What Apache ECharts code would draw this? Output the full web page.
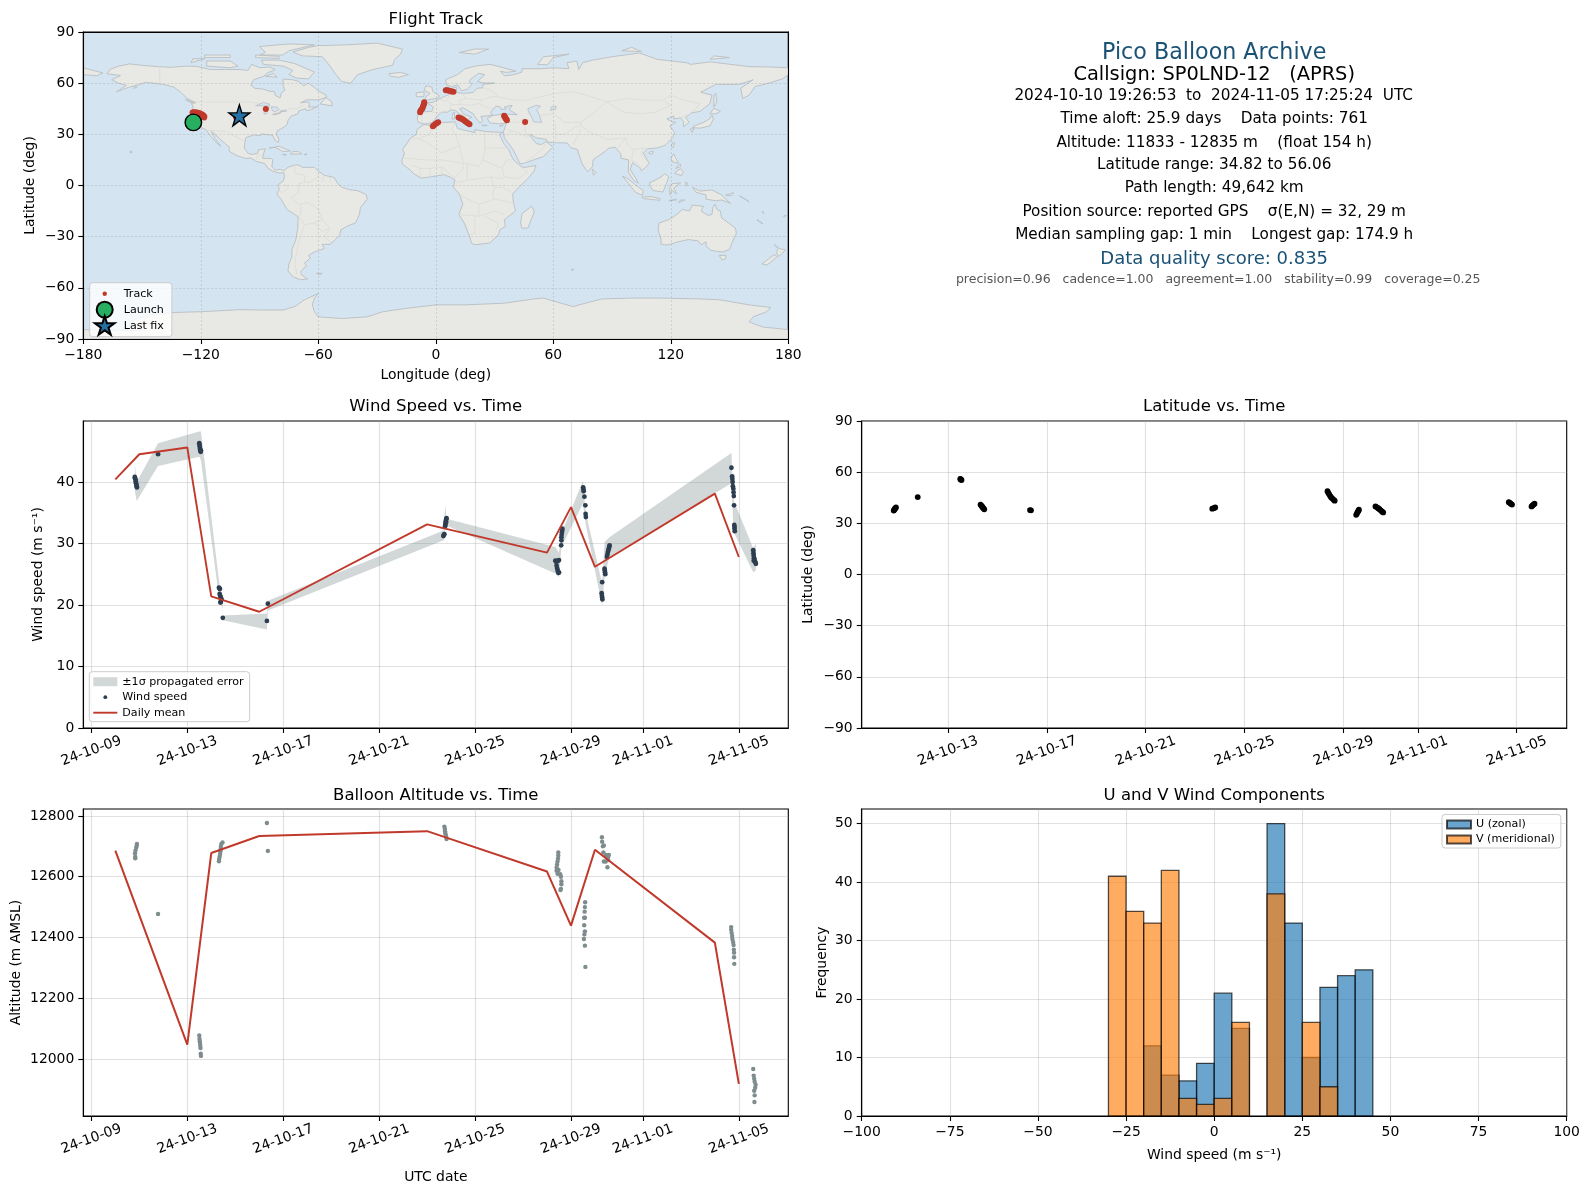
<!DOCTYPE html>
<html><head><meta charset="utf-8">
<style>html,body{margin:0;padding:0;background:#fff}#c{width:1590px;height:1189px}</style>
<script src="https://cdn.jsdelivr.net/npm/echarts@6/dist/echarts.min.js"></script>
</head><body><div id="c"></div>
<script>
/* ---------- DATA (days are counted from 2024-10-09 00:00 UTC) ---------- */
const dateTickLabels = ['24-10-09','24-10-13','24-10-17','24-10-21','24-10-25','24-10-29','24-11-01','24-11-05'];
const dateTickDays   = [0,4,8,12,16,20,23,27];
const latDateTickLabels = ['24-10-13','24-10-17','24-10-21','24-10-25','24-10-29','24-11-01','24-11-05'];
const latDateTickDays   = [4,8,12,16,20,23,27];

const windDay = [1.81,1.82,1.84,1.85,1.86,1.88,1.89,1.90,2.78,4.50,4.51,4.52,4.53,4.54,4.55,4.56,4.57,5.32,5.34,5.36,5.35,5.37,5.39,5.41,5.43,5.40,5.38,5.48,7.32,7.36,14.68,14.70,14.72,14.75,14.76,14.77,14.78,14.79,14.80,14.81,14.79,19.35,19.37,19.39,19.40,19.42,19.44,19.46,19.48,19.50,19.50,19.47,19.59,19.60,19.60,19.61,19.62,19.63,19.64,20.51,20.52,20.53,20.56,20.60,20.61,20.62,21.30,21.28,21.29,21.30,21.31,21.40,21.41,21.42,21.43,21.50,21.52,21.54,21.56,21.58,21.60,21.61,26.69,26.72,26.73,26.74,26.75,26.77,26.78,26.79,26.80,26.81,26.82,26.82,26.83,27.60,27.61,27.62,27.63,27.62,27.65,27.67,27.69,27.71];
const windSpeed = [40.8,40.6,40.4,40.1,39.8,39.5,39.3,39.1,44.5,46.3,46.0,45.7,45.4,45.2,45.0,44.9,45.1,22.8,22.7,22.6,21.8,21.5,21.3,21.0,20.9,20.5,20.4,17.9,17.4,20.2,31.2,31.4,31.5,32.8,33.0,33.3,33.6,33.8,34.0,34.1,33.4,27.2,27.1,27.0,26.4,26.0,25.7,25.4,25.2,25.3,27.3,27.2,29.7,30.5,31.0,31.4,31.8,32.1,32.4,39.1,38.8,38.5,37.6,36.2,34.8,34.3,23.7,21.9,21.5,21.2,20.9,25.9,25.6,25.3,25.0,27.8,28.2,28.6,28.9,29.2,29.5,29.7,42.3,40.9,40.5,40.0,39.3,38.9,38.3,37.7,36.2,33.0,32.7,32.4,32.0,28.9,28.4,28.0,27.6,27.2,27.5,27.1,26.9,26.7];

const bandDay  = [1.81,1.89,2.78,4.50,4.57,5.32,5.47,5.48,7.32,7.36,14.69,14.76,14.81,19.35,19.50,19.60,20.50,20.62,21.30,21.40,21.60,26.69,26.78,27.60,27.71];
const bandLow  = [38.6,36.9,42.6,44.1,43.5,21.3,19.4,17.5,16.0,19.1,30.5,32.4,32.9,25.1,24.5,29.4,36.5,33.0,19.8,24.6,27.8,39.8,31.9,25.3,25.6];
const bandHigh = [43.0,40.0,46.3,48.2,48.2,24.0,20.9,18.3,18.6,20.7,32.1,36.3,34.0,29.4,28.5,31.6,40.2,34.9,23.5,30.2,31.0,44.7,37.0,29.2,30.0];

const dailyDay  = [1,2,4,5,7,14,19,20,21,26,27];
const dailyWind = [40.4,44.5,45.6,21.4,18.9,33.1,28.5,35.9,26.2,38.1,27.8];
const altDailyDay = [1,4,5,7,14,19,20,21,26,27];
const altDaily    = [12686,12047,12678,12734,12750,12617,12439,12689,12383,11918];

const altDay = [1.83,1.83,1.82,1.84,1.87,1.89,1.90,2.78,4.50,4.51,4.52,4.53,4.54,4.55,4.56,4.57,5.32,5.33,5.35,5.37,5.38,5.39,5.40,5.42,5.47,7.32,7.36,14.72,14.74,14.75,14.76,14.78,14.80,14.81,19.47,19.47,19.46,19.44,19.42,19.40,19.40,19.44,19.48,19.55,19.58,19.60,19.60,19.58,19.56,20.59,20.58,20.57,20.55,20.58,20.55,20.58,20.56,20.54,20.58,20.60,21.29,21.30,21.33,21.37,21.35,21.45,21.55,21.55,21.45,21.37,21.52,21.50,21.58,26.68,26.68,26.70,26.72,26.73,26.76,26.78,26.79,26.80,26.80,26.81,27.60,27.62,27.64,27.66,27.70,27.68,27.64,27.66,27.65];
const altValue = [12661,12666,12677,12686,12695,12702,12708,12477,12077,12066,12058,12052,12044,12036,12017,12010,12651,12658,12666,12675,12683,12690,12699,12708,12713,12777,12685,12765,12757,12750,12743,12737,12730,12724,12680,12670,12660,12650,12640,12630,12620,12610,12622,12608,12600,12585,12575,12560,12556,12516,12500,12485,12465,12465,12440,12420,12410,12395,12373,12303,12730,12715,12700,12703,12680,12672,12665,12655,12650,12650,12631,12665,12672,12434,12425,12415,12405,12395,12385,12375,12360,12350,12335,12313,11967,11945,11935,11925,11915,11905,11895,11880,11858];

const latDay = [1.81,1.83,1.85,1.87,1.90,2.78,4.50,4.52,4.55,5.32,5.35,5.38,5.41,5.44,5.47,7.32,7.36,14.69,14.75,14.81,19.35,19.38,19.42,19.46,19.50,19.55,19.60,19.64,20.51,20.54,20.57,20.60,20.62,21.29,21.35,21.40,21.45,21.50,21.55,21.60,26.68,26.72,26.76,26.81,27.60,27.64,27.68,27.72];
const latValue = [37.5,37.9,38.4,38.8,39.3,45.4,56.0,55.7,55.4,41.0,40.4,39.9,39.3,38.8,38.2,37.8,37.6,38.6,38.9,39.3,48.8,47.9,47.0,46.0,45.2,44.5,43.8,43.3,35.0,35.8,36.7,37.4,38.0,39.9,39.4,38.9,38.3,37.6,37.0,36.4,42.4,42.0,41.5,41.0,39.9,40.5,41.0,41.5];

const trackLon = [-124.2,-123.5,-122.5,-121.5,-120.5,-119.5,-118.8,-118.2,-118.3,-123.8,-123,-122,-102,-100.3,-86.8,-8,-7.8,-7.3,-6.9,-6.6,-6.3,-6,-5.9,5.1,5.8,6.5,7.3,8.1,9,-1.5,-0.9,-0.2,0.6,1.2,11.6,12.3,13,13.7,14.4,15,15.7,16.4,17.2,34.9,35.1,35.4,35.7,36,36.3,45.6];
const trackLat = [42.8,43,42.9,42.6,42.3,41.8,41.2,40.5,39.8,37.2,38,38.8,40,41.1,44.9,43,43.8,44.5,45.2,46,47,48,48.8,55.9,55.9,55.7,55.4,55.1,54.9,34.8,35.3,36,36.7,37.1,39.9,39.6,39.2,38.8,38.3,37.7,37.1,36.5,35.9,40.9,40.4,39.9,39.3,38.8,38.2,37.3];
const launchPoint = [-123.8,37.0];
const lastFixPoint = [-100.3,41.1];

const histBinEdges = [-30,-25,-20,-15,-10,-5,0,5,10,15,20,25,30,35,40,45];
const uCounts = [0,0,12,7,6,9,21,15,0,50,33,10,22,24,25];
const vCounts = [41,35,33,42,3,2,3,16,0,38,0,16,5,0,0];

const infoLines = [
  ['Pico Balloon Archive','title'],
  ['Callsign: SP0LND-12   (APRS)','call'],
  ['2024-10-10 19:26:53  to  2024-11-05 17:25:24  UTC','body'],
  ['Time aloft: 25.9 days    Data points: 761','body'],
  ['Altitude: 11833 - 12835 m    (float 154 h)','body'],
  ['Latitude range: 34.82 to 56.06','body'],
  ['Path length: 49,642 km','body'],
  ['Position source: reported GPS    \u03c3(E,N) = 32, 29 m','body'],
  ['Median sampling gap: 1 min    Longest gap: 174.9 h','body'],
  ['Data quality score: 0.835','score'],
  ['precision=0.96   cadence=1.00   agreement=1.00   stability=0.99   coverage=0.25','small']
];

/* coarse world outline, lon/lat */
const landPolygons = [
 [[-168,65.5],[-166,68.3],[-162,70],[-156.5,71.3],[-150,70.5],[-141,69.6],[-135,69.3],[-128,70],[-122,69.8],[-115,68],[-108,68],[-100,68],[-96,67.5],[-94,71],[-90,69],[-85,69.5],[-82,68],[-86,66],[-88,64],[-93,62],[-94.5,59],[-92.5,57],[-88,56.5],[-85,55.3],[-82.3,55],[-82,52.9],[-79.5,51.3],[-79,54],[-77,56],[-78,58.5],[-78,62.4],[-73,62],[-70,61],[-67.5,58.5],[-65,60],[-62,57.5],[-60,55.5],[-56,53],[-56,51.7],[-60,50.2],[-66,50.2],[-69,48.5],[-65,49],[-64.5,47.8],[-65,46],[-61,46],[-60,46.5],[-63.5,44.6],[-66,43.8],[-66.5,45],[-70,43.7],[-70.5,42],[-74,40.6],[-75.5,38],[-76,35.5],[-78,33.9],[-81,32],[-81.4,30],[-80,26.8],[-80.5,25.2],[-81.7,26],[-82.8,28],[-83.5,29.7],[-85,29.6],[-89,30.3],[-89.5,29.2],[-93,29.7],[-97,28],[-97.5,25],[-97.8,22],[-96,19],[-94,18.2],[-91,18.8],[-90.5,21],[-87,21.5],[-88,18.5],[-88.5,16],[-84,15.8],[-83.3,15],[-83.7,11],[-82,9],[-79.5,9.5],[-77.5,8.6],[-75.5,10.7],[-72,12],[-70,12],[-68,10.6],[-62,10.7],[-60,8.5],[-57,6],[-52,4.8],[-50,1],[-48,-1],[-44,-2.5],[-40,-3],[-35.5,-5.2],[-35,-8],[-38.5,-13],[-39,-17],[-41,-22],[-45,-23.7],[-48.5,-26],[-49,-29],[-52,-32.5],[-54,-34.5],[-58,-34.5],[-57,-37],[-62,-39],[-65,-41],[-64,-42.5],[-67,-45.5],[-66,-47],[-69,-50.5],[-68.5,-52.5],[-65.5,-54.8],[-69,-55.3],[-73,-53.5],[-75.5,-50],[-75,-46],[-73.5,-42],[-73.5,-37.5],[-71.5,-32],[-70.5,-25],[-70.3,-18.3],[-76,-14],[-79,-8],[-81.2,-5],[-80,-2.5],[-80.5,0.5],[-78,2.5],[-77.3,5],[-77.5,7.5],[-80,7.3],[-83,8.3],[-85.7,10],[-87.5,13],[-91.5,14],[-94.5,16.2],[-97,15.8],[-101.5,17.5],[-105.5,20],[-105.5,22.5],[-109,26],[-112.7,30],[-114.7,31.7],[-112.5,27],[-109.8,23],[-112,25],[-115,29],[-117.2,32.5],[-120.5,34.5],[-122.5,37.5],[-124.2,40.5],[-124,46],[-124.7,48.3],[-122.5,48.5],[-127,51],[-130,54.5],[-133.5,57.5],[-138,59],[-144,60],[-148,60.5],[-152,59],[-157,57.5],[-163,55],[-158,58.7],[-162,60],[-165.5,62],[-161,64.5]],
 [[-73,78.2],[-68,76],[-58,75.5],[-54,70],[-51,65],[-48,61],[-43.5,59.9],[-40,65],[-32,68],[-22,70.5],[-21,74],[-18,77],[-17,80],[-30,83.5],[-45,82.5],[-60,82],[-65,81]],
 [[-80,73.5],[-72,71.5],[-68,69.5],[-62,66.5],[-65,62.5],[-71,63],[-75,65],[-73,67.5],[-78,70],[-88,71],[-89,73.5]],
 [[-117,70],[-105,69],[-101,70],[-105,73],[-117,73]],
 [[-125,72],[-118,74.3],[-124,74.3]],
 [[-90,76.5],[-78,76.5],[-75,79],[-62,82.5],[-75,83],[-90,81.5],[-87,78]],
 [[-92,75],[-80,74.5],[-80,75.7],[-92,76.5]],
 [[-118,75],[-105,75],[-105,76.5],[-118,76.5]],
 [[-87,64],[-81,63.5],[-83,65.7]],
 [[-59,47.8],[-53,46.7],[-53,49],[-56,51.5],[-57.5,50]],
 [[-128,50.5],[-123.5,48.4],[-125.5,48.9]],
 [[-85,21.9],[-80,23],[-74.2,20.2],[-78,19.9],[-82,22.4]],
 [[-74.4,18.4],[-68.4,18.5],[-70,19.9],[-73,19.9]],
 [[-78.3,18.3],[-76.3,18],[-77,17.8]],
 [[-67.2,18],[-65.7,18.2],[-66.5,18.5]],
 [[-156,19],[-155,19.6],[-156,20.3]],
 [[-154.5,57],[-152.5,57.5],[-153.5,58]],
 [[-61,-51.5],[-58,-51.5],[-59,-52.3]],
 [[-6,35.8],[-2,35.1],[3,36.9],[10,37.3],[11,33.5],[15,32.3],[20,31],[20,32.8],[25,31.7],[32,31.2],[34.2,31.2],[32.5,29.9],[35,24],[37.2,21],[39.5,15.2],[43.2,11.5],[45,10.5],[51.2,11.8],[50,8],[47,4],[42,-1.5],[39.3,-5],[39.5,-9],[40.7,-15],[35,-20],[35.5,-24],[32.7,-26],[32,-29],[27.5,-33.7],[20,-34.8],[18.3,-34],[17,-29],[14.5,-22],[11.8,-17],[13.8,-11],[12,-5],[9,-1],[9.7,3.5],[8,4.5],[4.5,6.3],[1,5.8],[-3,5],[-7.5,4.4],[-11,6.7],[-13.5,9.5],[-17,12.5],[-17.3,14.7],[-16,19],[-17,21],[-13,27.7],[-10,30],[-9.5,33]],
 [[-9,37],[-9.5,38.8],[-9,43],[-2,43.5],[-1.2,46],[-4.5,48.4],[-1.5,48.7],[1.5,50.5],[4,52],[7,53.5],[8.5,54],[8.2,57],[10.6,57.7],[10.5,54.5],[14,54],[19,54.5],[21,57],[24,57.3],[24,59.3],[30,60],[24,60.2],[21.3,61],[25,65],[22,65.8],[18,62.5],[17,60.7],[18.5,59.5],[16,56.3],[13,55.5],[11.3,59],[8,58],[5.5,59],[5,62],[11,65],[15,68.5],[21,70.2],[28,71],[33,69.5],[41,67],[36,66.3],[33,67],[35,64.3],[40,65],[44,66.5],[44,68.5],[54,68.5],[60,69],[68,68.5],[67,72],[72,73],[73,68],[75,72],[80,73.5],[90,75.5],[104,77.7],[113,74],[128,72],[130,71],[140,72.5],[160,69.7],[170,69.5],[180,69],[180,65],[177,62.5],[170,60],[163,58],[160,53],[156.7,51],[155.7,57],[162,62],[155,59.3],[143,59.3],[135.3,54.7],[141,53],[140,48],[135,43.5],[130.5,42.5],[127.5,39.8],[129.4,37],[126.5,34.5],[126.5,37.5],[125,39.7],[121.5,39],[121.5,40.8],[118,39],[120.5,37.5],[122.5,37],[119.5,35],[122,31],[121,28],[117,23.5],[113,22],[108,21.5],[106,19],[109,13],[107,10.5],[105,8.7],[104,10.5],[100.5,13.5],[99.3,9.5],[103.5,1.3],[101,3],[98.3,8],[98.5,15],[94.5,16],[94.5,18.5],[91.5,22.5],[88,21.7],[86.5,20],[80.3,15],[80,11],[77.5,8],[75,12],[72.8,19],[72.5,21],[69,22.2],[67,25],[61.5,25],[57,25.5],[56.5,27],[51,28],[48.5,30],[48,29.5],[50,26.5],[51.5,24.5],[54,24],[56.3,25.8],[59.7,22.5],[55,17],[45,13],[43,12.8],[39.5,21],[35,28],[34.5,31.3],[36,36.5],[32,36.2],[27.5,36.7],[26.3,39.5],[29,41],[35,42],[41.5,41.5],[37.5,44.5],[39,47],[35,46],[36,45],[33.5,44.5],[33,46],[30.7,46.5],[28,43],[29,41.3],[26,40.8],[23,40.5],[24,38],[22.5,36.6],[19.5,41],[19.3,42],[13.8,45.6],[12.3,45],[14,42],[18.4,40],[16.5,39],[15.7,38],[14.5,40.5],[12,42],[10,44],[8,44.3],[6,43],[3,43],[0.5,40.5],[-0.5,38.7],[-2,36.8],[-5.5,36]],
 [[-180,69],[-175,67.5],[-170,66],[-173,64.3],[-180,65]],
 [[-5.5,50],[1.4,51.2],[1.7,52.7],[-1.5,55],[-2,57.7],[-5,58.6],[-6,56],[-3,54],[-5,52]],
 [[-10,52],[-6,52.2],[-6,55],[-10,54.3]],
 [[-24,65.5],[-18,66.3],[-14,65],[-19,63.4],[-23,64]],
 [[12,78],[20,80],[27,80],[20,77]],
 [[52,71],[57,70.7],[60,75],[68,77],[55,75.5]],
 [[95,79],[105,78.5],[100,81]],
 [[140,74],[150,75],[142,76]],
 [[12.5,38],[15.5,38.2],[15,36.7]],
 [[8.3,39],[9.6,39],[9.5,43],[8.6,42.5]],
 [[23.5,35.4],[26.3,35.2],[24.5,35]],
 [[32.5,34.8],[34.5,35.6],[33.5,34.8]],
 [[44,-25],[47,-25],[50.3,-15.5],[49,-12],[44,-16.5],[43.3,-22]],
 [[80,9.7],[81.8,7.5],[80.5,6]],
 [[130.9,34],[135,33.6],[140,35],[141.8,39],[141,41.3],[139.8,39],[136.7,37],[132,35]],
 [[129.8,33],[131.8,33.5],[131,31.2]],
 [[140,42],[143,42],[145.3,43.5],[142,45.4]],
 [[142,46],[143.5,49],[143,54],[142,53]],
 [[120.2,23],[121,22],[122,25],[121,25.2]],
 [[108.7,19],[110.5,18.3],[111,20],[109.5,20]],
 [[120,16],[121.5,18.5],[122.3,16.5],[124,13],[121,13.8]],
 [[122,7],[125.5,5.8],[126.5,8],[125,9.7],[123,8.5]],
 [[122.5,10],[125,11],[125,12.5],[123.5,11.5]],
 [[109,1.5],[111.5,2.8],[115,5],[117,7],[119,5],[117.7,1],[116,-3.8],[111,-3],[109.5,-0.5]],
 [[95.3,5.6],[98,4],[103.5,-1],[106,-3],[105.5,-5.8],[102,-4],[98.5,1]],
 [[105.2,-6.8],[110,-6.5],[114.5,-7.7],[114.5,-8.7],[106,-7.7]],
 [[119.5,-5.5],[120.5,-2.8],[123,-5],[121.5,-1.5],[125,1.5],[120.5,1],[119.5,-1]],
 [[127.5,2],[128.5,1.5],[128,-0.5]],
 [[131,-1],[135,-3.3],[141,-2.6],[146,-5.5],[148,-8],[150.5,-10.5],[146,-8.5],[143,-9],[138,-8],[138,-5.5],[133,-4],[132,-2.7]],
 [[124,-10],[127,-8.5],[125,-8.5]],
 [[119,-8.7],[123,-8.3],[120,-8.9]],
 [[148,-5.7],[152,-4.2],[151,-6]],
 [[155,-6],[160,-9.5],[158,-8]],
 [[164,-20],[167,-22.3],[166,-22]],
 [[166.8,-15],[167.5,-16.5],[167,-16]],
 [[177.5,-18],[179,-17.5],[178,-18.4]],
 [[114,-22],[113.5,-26],[115,-31.5],[115,-34.3],[118,-35],[124,-33],[129,-31.7],[134,-32.5],[135.5,-34.8],[138,-33],[138,-35.5],[140.5,-38],[144,-38.7],[146.5,-39],[150,-37.5],[151.3,-33.5],[153.5,-28],[153,-25],[149.5,-22],[146,-19],[145.3,-15],[143.5,-14],[142.5,-11],[141.5,-13],[141,-17],[139,-17.5],[135.5,-15],[136.7,-12.2],[131,-11.5],[129.5,-15],[126,-14],[122,-18],[119,-20]],
 [[144.7,-41],[148.2,-41],[148,-43],[146,-43.6]],
 [[172.7,-34.5],[175.5,-37],[178.5,-37.7],[177,-39.7],[175,-41.6],[174,-39.5],[174.7,-37]],
 [[172.7,-40.5],[174.3,-41.7],[171,-45],[169,-46.7],[166.5,-46],[170,-43]],
 [[69,-49.3],[70.5,-49],[70,-49.7]],
 [[-180,-84.5],[-150,-85],[-155,-79],[-146,-76],[-135,-74.5],[-120,-74],[-100,-72.8],[-90,-73],[-78,-73],[-72,-71],[-67,-67],[-60,-63.3],[-62,-66],[-63,-70],[-62,-74],[-60,-77],[-48,-78],[-35,-77],[-27,-74],[-15,-72],[0,-70],[15,-70],[35,-69],[50,-66.5],[55,-66],[70,-71],[78,-68.5],[85,-66.5],[100,-66],[115,-66],[135,-66.5],[145,-67],[160,-70],[171,-71.5],[169,-74],[162,-77],[160,-80],[167,-83],[180,-84.5],[180,-90],[-180,-90]]
];
const lakePolygons = [
 [[47,45],[51,47],[53.5,46.5],[51.5,44.5],[53,41],[54,37],[50,37.3],[49,40],[47.5,43]],
 [[-92,46.7],[-88,48.7],[-85,47.7],[-85,46.6],[-88,46.8]],
 [[-87.8,42],[-86.5,42],[-85,45.7],[-87,45.7]],
 [[-84,46],[-81,46],[-80,44.6],[-82,43.2],[-83.5,44]],
 [[-83.4,41.7],[-79,42.8],[-79.2,42.5],[-82,41.5]],
 [[-79.7,43.3],[-76.3,43.5],[-76.5,44.2],[-79,43.8]],
 [[59,46],[61.5,46.5],[61,44.5],[58.5,44]]
];
const borderLines = [
 [[-141,69.6],[-141,60]],
 [[-123,49],[-95,49],[-89,48],[-83,46],[-82.5,42],[-79,43],[-75,45],[-71,45],[-67.5,47]],
 [[-117,32.5],[-106.5,31.7],[-103,29],[-97.5,26]],
 [[-92,14.5],[-91,17.5],[-89,18]],
 [[-72,12],[-72,7],[-67,6],[-67,2],[-70,1],[-70,-4],[-74,-7],[-70,-11],[-65,-10],[-60,-14],[-58,-20],[-54,-25],[-57,-30],[-53.5,-33.5]],
 [[-60,8.5],[-60,5],[-64,2],[-67,2]],[[-57,6],[-58,2]],[[-54,5],[-54,2]],
 [[-78,1],[-75,-1],[-78,-4],[-80.5,-3.5]],
 [[-70,-18],[-67,-23],[-70,-33],[-72,-45],[-71,-52]],[[-69,-11],[-69,-17],[-70,-18]],[[-67,-23],[-62,-22],[-58,-20]],[[-62,-22],[-58,-27],[-54,-25]],
 [[-9,27.5],[-3,30],[-2,35]],[[-13,27.7],[-9,27.5],[-4,25],[3,19],[12,23.5],[10,30],[8,33],[10,37]],
 [[25,31.7],[25,20],[24,15],[22,11],[16,13],[14,13],[12,23.5]],[[25,22],[37,22]],[[24,15],[34,10],[36,15],[39,15]],[[34,10],[35,5],[42,4],[47,8],[43,11]],
 [[-16,16],[-5,15],[3,15],[14,13]],[[-12,12],[-8,10],[-3,10],[3,11],[9,5]],[[-8,10],[-8,5]],[[-3,10],[-3,5]],[[3,11],[3,6.5]],
 [[9,4],[14,10],[14,13]],[[16,13],[16,3],[12,2],[10,2]],[[16,3],[28,5],[34,4],[35,5]],[[28,5],[30,-1],[29,-6],[30,-8],[22,-11],[13,-6]],
 [[30,-1],[34,-1],[39.5,-4.5]],[[30,-8],[40,-10.5]],[[22,-11],[22,-18],[12,-17]],[[22,-18],[30,-15],[35,-17]],[[20,-18],[20,-28],[17,-29]],[[25,-18],[32,-22],[31,-26]],
 [[-2,43],[3,42.5]],[[-9,42],[-7,42],[-7,37]],[[1.5,50.5],[6,49.5],[8,48],[7,44]],[[7,53.5],[6,50.5]],[[14,54],[15,51],[12,50],[13,47.5],[8,47.5]],[[15,51],[24,50],[28,52],[32,52]],[[24,50],[22,48],[28,45],[29,45.5]],[[13,47.5],[17,47],[22,48]],[[24,57.3],[28,56],[32,52],[40,50],[47,50],[50,51],[61,54],[70,55],[77,53],[87,49],[98,51],[107,50],[116,50],[120,53],[127,50],[135,48],[131,43]],
 [[87,49],[96,43],[105,42],[112,43],[120,47],[116,50]],[[47,42],[50,45]],[[53,41],[60,42],[66,37],[74,37],[80,42],[87,49]],[[61,37],[61,30],[61.5,25]],[[74,37],[74,35],[79,31],[88,27],[97,28],[93,22]],[[61,30],[66,30],[71,34],[74,35]],[[70,24],[72,28],[74,33]],
 [[97,28],[98,24],[101,21],[106,22],[108,21.5]],[[101,21],[100,15],[103,13],[105,10]],[[106,22],[105,18],[108,14]],[[35,37],[42,37],[45,39],[48,38]],[[45,39],[46,30],[48,30]],[[36,33],[39,32],[46,29],[48,29]],[[39,32],[36,29]],[[45,13],[52,19],[55,22],[56,25]],[[125,39.7],[130,42]]
];

/* ---------- helpers ---------- */
const FONT = '"DejaVu Sans"';
const DAY_MS = 86400000, T0 = Date.UTC(2024,9,9);
const toMs = d => T0 + d*DAY_MS;
const zip = (a,b) => a.map((v,i)=>[v,b[i]]);
const timePts = (a,b) => a.map((v,i)=>[toMs(v),b[i]]);
const GRID_LINE = 'rgba(176,176,176,0.38)';
const tickOpts = {length:5,lineStyle:{color:'#000',width:1.1}};
const lineOpts = {onZero:false,lineStyle:{color:'#000',width:1.1}};
const lblBase = {color:'#000',fontFamily:FONT,fontSize:13.9,margin:9};

function timeAxis(gridIndex,dMin,dMax,days,labels,name){
  const vals = days.map(toMs);
  return {type:'value',gridIndex,min:toMs(dMin),max:toMs(dMax),
    name:name||'',nameLocation:'middle',nameGap:54,
    nameTextStyle:{color:'#000',fontFamily:FONT,fontSize:13.9},
    axisLine:lineOpts,axisTick:Object.assign({customValues:vals},tickOpts),
    axisLabel:Object.assign({},lblBase,{customValues:vals,rotate:20,align:'center',verticalAlign:'middle',margin:23,
      formatter:v=>labels[vals.indexOf(+v)]||''}),
    splitLine:{show:true,lineStyle:{color:GRID_LINE,width:1.1}}};
}
function valAxis(gridIndex,min,max,ticks,name,gap,isY,dashed){
  const fmt = v => String(v).replace('-','\u2212');
  return {type:'value',gridIndex,min,max,
    name:name,nameLocation:'middle',nameGap:gap,
    nameTextStyle:{color:'#000',fontFamily:FONT,fontSize:13.9},
    axisLine:lineOpts,axisTick:Object.assign({customValues:ticks},tickOpts),
    axisLabel:Object.assign({},lblBase,{customValues:ticks,formatter:fmt}),
    splitLine:{show:true,lineStyle:dashed?{color:'rgba(120,120,120,0.28)',width:0.8,type:[2,2]}:{color:GRID_LINE,width:1.1}}};
}
const corners = (w,h) => `M0 0L0 0M${w} ${h}L${w} ${h}`;
const dotIcon = (w,h,r,cx) => { const c=cx===undefined?w/2:cx; return `path://${corners(w,h)}M${c-r} ${h/2}A${r} ${r} 0 1 1 ${c+r} ${h/2}A${r} ${r} 0 1 1 ${c-r} ${h/2}Z`; };
const rectIcon = (w,h,ph) => `path://${corners(w,h)}M0 ${(h-ph)/2}L${w} ${(h-ph)/2}L${w} ${(h+ph)/2}L0 ${(h+ph)/2}Z`;
const STAR = 'M0,-10L2.245,-3.09L9.51,-3.09L3.63,1.18L5.88,8.09L0,3.82L-5.88,8.09L-3.63,1.18L-9.51,-3.09L-2.245,-3.09Z';
const starIcon = (w,h,s,cx) => { const c=[[0,-10],[2.245,-3.09],[9.51,-3.09],[3.63,1.18],[5.88,8.09],[0,3.82],[-5.88,8.09],[-3.63,1.18],[-9.51,-3.09],[-2.245,-3.09]];
  return 'path://'+corners(w,h)+c.map((p,i)=>(i?'L':'M')+(cx+p[0]*s).toFixed(2)+' '+(h/2+p[1]*s+0.7).toFixed(2)).join('')+'Z'; };
function legendBox(o){return Object.assign({show:true,orient:'vertical',selectedMode:false,
  backgroundColor:'rgba(255,255,255,0.8)',borderColor:'#ccc',borderWidth:1,borderRadius:3,
  textStyle:{color:'#000',fontFamily:FONT,fontSize:11.1},z:20},o);}

/* layout of the five panels */
const L1=83.3,L2=861.7,W=705,H=307,T1=32,T2=421,T3=809;
const C1=L1+W/2,C2=L2+W/2;
const grids=[{left:L1,top:T1,width:W,height:H,show:true,backgroundColor:'#d4e5f1',borderColor:'#000',borderWidth:1.1},
 {left:L1,top:T2,width:W,height:H,show:true,borderColor:'#000',borderWidth:1.1,backgroundColor:'#fff'},
 {left:L2,top:T2,width:W,height:H,show:true,borderColor:'#000',borderWidth:1.1,backgroundColor:'#fff'},
 {left:L1,top:T3,width:W,height:H,show:true,borderColor:'#000',borderWidth:1.1,backgroundColor:'#fff'},
 {left:L2,top:T3,width:W,height:H,show:true,borderColor:'#000',borderWidth:1.1,backgroundColor:'#fff'}];

const WIDE_MIN=-0.3363,WIDE_MAX=29.0623,LAT_MIN=0.5145,LAT_MAX=29.0218;
const xAxes=[
 Object.assign(valAxis(0,-180,180,[-180,-120,-60,0,60,120,180],'Longitude (deg)',29.5,false,true),{z:3}),
 timeAxis(1,WIDE_MIN,WIDE_MAX,dateTickDays,dateTickLabels),
 timeAxis(2,LAT_MIN,LAT_MAX,latDateTickDays,latDateTickLabels),
 timeAxis(3,WIDE_MIN,WIDE_MAX,dateTickDays,dateTickLabels,'UTC date'),
 valAxis(4,-100,100,[-100,-75,-50,-25,0,25,50,75,100],'Wind speed (m s\u207b\u00b9)',32,false),
 {type:'value',gridIndex:0,min:-180,max:180,position:'top',axisLine:lineOpts,axisTick:{show:false},axisLabel:{show:false},splitLine:{show:false},z:6}
];
const yAxes=[
 Object.assign(valAxis(0,-90,90,[-90,-60,-30,0,30,60,90],'Latitude (deg)',46,true,true),{z:3}),
 valAxis(1,0,49.9,[0,10,20,30,40],'Wind speed (m s\u207b\u00b9)',38,true),
 valAxis(2,-90,90,[-90,-60,-30,0,30,60,90],'Latitude (deg)',46,true),
 valAxis(3,11812,12823,[12000,12200,12400,12600,12800],'Altitude (m AMSL)',60,true),
 valAxis(4,0,52.5,[0,10,20,30,40,50],'Frequency',32,true),
 {type:'value',gridIndex:0,min:-90,max:90,position:'right',axisLine:lineOpts,axisTick:{show:false},axisLabel:{show:false},splitLine:{show:false},z:6}
];

const panelTitles=[['Flight Track',C1,19.4],['Wind Speed vs. Time',C1,406.8],['Latitude vs. Time',C2,406.8],['Balloon Altitude vs. Time',C1,796],['U and V Wind Components',C2,796]];
const infoY=[52.9,75,96.2,118.6,142.6,165,188,211.8,234.8,259.3,279.6];
const infoX=[C2,C2,C2-0.5,C2,C2,C2,C2,C2,C2,C2,C2+4];
const infoStyle={title:{fontSize:22.2,color:'#1a5276'},call:{fontSize:19.4,color:'#000'},body:{fontSize:15.25,color:'#000'},score:{fontSize:18,color:'#1a5276'},small:{fontSize:12.5,color:'#555'}};
const titles=panelTitles.map(t=>({text:t[0],left:t[1],top:t[2],textAlign:'center',textVerticalAlign:'middle',padding:0,
   textStyle:{fontFamily:FONT,fontSize:16.5,fontWeight:'normal',color:'#000'}}))
 .concat(infoLines.map((l,i)=>({text:l[0],left:infoX[i],top:infoY[i],textAlign:'center',textVerticalAlign:'middle',padding:0,
   textStyle:Object.assign({fontFamily:FONT,fontWeight:'normal'},infoStyle[l[1]])})));

const polyRender=(list,style)=>(params,api)=>({type:'polygon',silent:true,
  shape:{points:list[params.dataIndex].map(p=>api.coord(p))},style});
const histRender=(color,edge)=>(params,api)=>{
  const a=api.coord([api.value(0),api.value(2)]),b=api.coord([api.value(1),0]);
  return {type:'rect',silent:true,shape:{x:a[0],y:a[1],width:b[0]-a[0],height:b[1]-a[1]},style:{fill:color,stroke:edge,lineWidth:1.3}};
};
const histData=c=>c.map((n,i)=>[histBinEdges[i],histBinEdges[i+1],n]).filter(r=>r[2]>0);
const U_FILL='rgba(31,119,180,0.66)',V_FILL='rgba(255,127,14,0.66)',BAR_EDGE='rgba(0,0,0,0.68)';
const BAND='rgba(127,140,141,0.35)';
const TRANSPARENT='rgba(0,0,0,0)';

const series=[
 {type:'custom',name:'land',xAxisIndex:0,yAxisIndex:0,z:1,clip:true,silent:true,data:landPolygons.map((_,i)=>[i]),
  renderItem:polyRender(landPolygons,{fill:'#e8e8e4',stroke:'#b9bec2',lineWidth:0.9})},
 {type:'custom',name:'borders',xAxisIndex:0,yAxisIndex:0,z:1,silent:true,data:borderLines.map((_,i)=>[i]),
  renderItem:(params,api)=>({type:'polyline',silent:true,shape:{points:borderLines[params.dataIndex].map(p=>api.coord(p))},style:{fill:null,stroke:'#dcdcd8',lineWidth:0.9}})},
 {type:'custom',name:'lakes',xAxisIndex:0,yAxisIndex:0,z:1,silent:true,data:lakePolygons.map((_,i)=>[i]),
  renderItem:polyRender(lakePolygons,{fill:'#d4e5f1',stroke:'#b9bec2',lineWidth:0.8})},
 {type:'scatter',name:'Track',xAxisIndex:0,yAxisIndex:0,z:5,symbolSize:6,itemStyle:{color:'#c0392b',opacity:1,borderColor:TRANSPARENT,borderWidth:1.4},data:zip(trackLon,trackLat)},
 {type:'scatter',name:'Launch',xAxisIndex:0,yAxisIndex:0,z:7,symbolSize:16.5,itemStyle:{color:'#27ae60',opacity:1,borderColor:'#000',borderWidth:1.4},data:[launchPoint]},
 {type:'scatter',name:'Last fix',xAxisIndex:0,yAxisIndex:0,z:7,symbol:'path://'+STAR,symbolSize:21,itemStyle:{color:'#2471a3',opacity:1,borderColor:'#000',borderWidth:1.4},data:[lastFixPoint]},

 {type:'custom',name:'\u00b11\u03c3 propagated error',xAxisIndex:1,yAxisIndex:1,z:2,silent:true,data:[[0]],itemStyle:{color:BAND},
  renderItem:(params,api)=>{
    const up=bandDay.map((d,i)=>api.coord([toMs(d),bandHigh[i]]));
    const lo=bandDay.map((d,i)=>api.coord([toMs(d),bandLow[i]])).reverse();
    return {type:'polygon',silent:true,shape:{points:up.concat(lo)},style:{fill:BAND}};
  }},
 {type:'scatter',name:'Wind speed',xAxisIndex:1,yAxisIndex:1,z:3,symbolSize:4.8,itemStyle:{color:'#2c3e50',opacity:1},data:timePts(windDay,windSpeed)},
 {type:'line',name:'Daily mean',xAxisIndex:1,yAxisIndex:1,z:4,symbol:'none',lineStyle:{color:'#c0392b',width:1.9},itemStyle:{color:'#c0392b'},data:timePts(dailyDay,dailyWind)},

 {type:'scatter',name:'Latitude',xAxisIndex:2,yAxisIndex:2,symbolSize:5.8,itemStyle:{color:'#000',opacity:1},data:timePts(latDay,latValue)},

 {type:'scatter',name:'Altitude',xAxisIndex:3,yAxisIndex:3,symbolSize:4.4,itemStyle:{color:'#7f8c8d',opacity:1},data:timePts(altDay,altValue)},
 {type:'line',name:'Altitude daily mean',xAxisIndex:3,yAxisIndex:3,z:4,symbol:'none',lineStyle:{color:'#c0392b',width:2},data:timePts(altDailyDay,altDaily)},

 {type:'custom',name:'U (zonal)',xAxisIndex:4,yAxisIndex:4,z:2,silent:true,encode:{x:[0,1],y:2},itemStyle:{color:U_FILL,borderColor:BAR_EDGE,borderWidth:0.8},data:histData(uCounts),renderItem:histRender(U_FILL,BAR_EDGE)},
 {type:'custom',name:'V (meridional)',xAxisIndex:4,yAxisIndex:4,z:3,silent:true,encode:{x:[0,1],y:2},itemStyle:{color:V_FILL,borderColor:BAR_EDGE,borderWidth:0.8},data:histData(vCounts),renderItem:histRender(V_FILL,BAR_EDGE)}
];

const legends=[
 legendBox({left:89.7,top:282.7,itemWidth:24,itemHeight:20,itemGap:-6,padding:[0,8,0,4],
   data:[{name:'Track',icon:dotIcon(24,20,2.2,10)},{name:'Launch',icon:dotIcon(24,20,8,10)},{name:'Last fix',icon:starIcon(24,20,1.03,10)}]}),
 legendBox({left:89.3,top:671.7,itemWidth:24,itemHeight:15,itemGap:0.5,padding:[2.5,6,1.5,4],
   data:[{name:'\u00b11\u03c3 propagated error',icon:rectIcon(24,15,9)},{name:'Wind speed',icon:dotIcon(24,15,1.9)},{name:'Daily mean',icon:rectIcon(24,15,1.9)}]}),
 legendBox({left:1442,top:814.5,itemWidth:24,itemHeight:14,itemGap:-1,padding:[2,6,0.5,4],
   data:[{name:'U (zonal)',icon:rectIcon(24,14,8)},{name:'V (meridional)',icon:rectIcon(24,14,8)}]})
];

const chart=echarts.init(document.getElementById('c'),null,{renderer:'canvas',width:1590,height:1189});
chart.setOption({useUTC:true,animation:false,backgroundColor:'#fff',textStyle:{fontFamily:FONT},tooltip:{show:false},
  title:titles,grid:grids,xAxis:xAxes,yAxis:yAxes,legend:legends,series});
</script></body></html>
